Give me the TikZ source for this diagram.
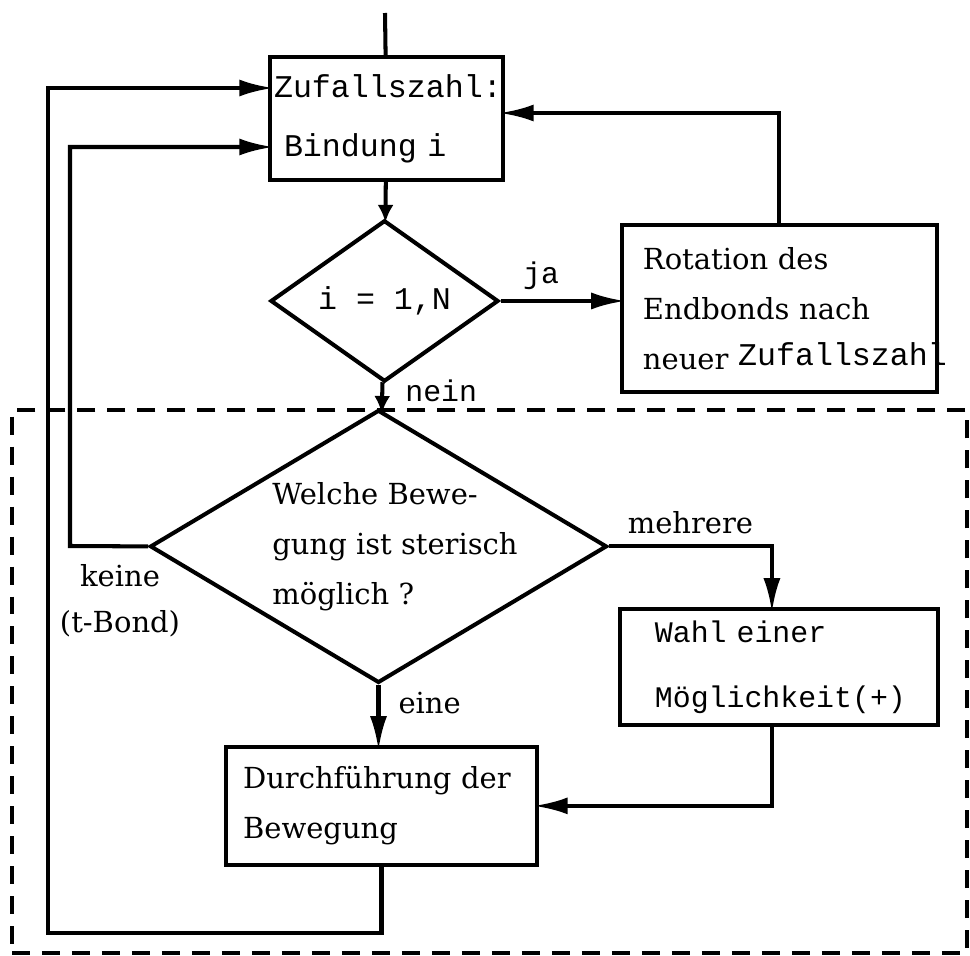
\documentclass[tikz,border=0pt]{standalone}
\usepackage{fontspec}
\setmainfont{DejaVu Serif}
\setmonofont{Liberation Mono}
\usetikzlibrary{shapes.geometric, arrows.meta, fit}
\tikzstyle{block} = [rectangle, draw=black, line width=2.3pt, align=left, inner sep=0pt, font=\fontsize{16.5}{28.5}\selectfont]
\tikzstyle{decision} = [diamond, draw=black, line width=2.3pt, inner sep=0pt]
\tikzstyle{line} = [line width=2.3pt]
\tikzstyle{arrow} = [line width=2.3pt, shorten >=-3pt, -{Latex[length=6.8mm,width=3.4mm]}]
\tikzstyle{arrowsmall} = [line width=2.3pt, shorten >=-2pt, -{Latex[length=3.5mm,width=3.2mm]}]
\tikzstyle{lbl} = [inner sep=0pt, font=\fontsize{16.5}{26.7}\selectfont]
\tikzstyle{lbltt} = [inner sep=0pt, font=\ttfamily\fontsize{17}{20}\selectfont]

\begin{document}
\begin{tikzpicture}[x=0.02cm, y=-0.02cm]
		\useasboundingbox (0,0) rectangle (970,956);
		\node (zuf) [block, minimum width=4.66cm, minimum height=2.46cm, text width=4.5cm, font=\ttfamily\fontsize{18}{33.6}\selectfont] at (386.5,118.5) {Zufallszahl:\\\hspace*{0.2cm}Bindung i};
		\node (dec1) [decision, below of=zuf, node distance=3.65cm, xshift=-0.04cm, minimum width=4.56cm, minimum height=3.14cm, font=\ttfamily\fontsize{18}{20}\selectfont] {i = 1,N};
		\node (rot) [block, right of=dec1, node distance=7.9cm, yshift=-0.15cm, minimum width=6.3cm, minimum height=3.34cm, text width=5.46cm] {Rotation des\\Endbonds nach\\\mbox{neuer \raisebox{2pt}{\ttfamily\fontsize{18}{20}\selectfont Zufallszahl}}};

		\node (dec2) [decision, below of=dec1, node distance=4.91cm, xshift=-0.12cm, minimum width=9.14cm, minimum height=5.46cm] {};
		\node (frage) [lbl, align=left, anchor=west, font=\fontsize{16.5}{28.5}\selectfont] at ([xshift=-2.13cm]dec2.center) {Welche Bewe-\\gung ist sterisch\\möglich ?};
		\node (wahl) [block, right of=dec2, node distance=8.01cm, yshift=-2.41cm, minimum width=6.36cm, minimum height=2.32cm, text width=4.96cm, font=\ttfamily\fontsize{17}{37}\selectfont] {Wahl einer\\Möglichkeit(+)};
		\node (durch) [block, below of=dec2, node distance=5.19cm, xshift=0.06cm, minimum width=6.22cm, minimum height=2.36cm, text width=5.54cm] {Durchführung der\\Bewegung};
		\node (blok) [draw=black, line width=2.2pt, dash pattern=on 0.36cm off 0.24cm, inner sep=0pt, fit={(12,410) (967,953)}] {};

		\coordinate (start) at (385,13);
		\coordinate (loop1) at (70,546);
		\coordinate (loop2) at (48,933);

		\draw [line] (start) -- (zuf);
		\draw [arrowsmall] (zuf) -- (dec1);
		\draw [arrow] (dec1.east) -- node [lbltt, above, pos=0.34, yshift=5pt] {ja} (dec1.east -| rot.west);
		\draw [arrow] (rot.north) |- ([yshift=1.1mm]zuf.east);
		\draw [arrowsmall] (dec1) -- node [lbltt, right, pos=0.3, xshift=0.42cm] {nein} (dec2);
		\draw [arrow] (dec2.east) -| node [lbl, above, pos=0.25, yshift=6pt] {mehrere} ([xshift=-0.14cm]wahl.north);
		\draw [arrow] (dec2.south) -- node [lbl, right, pos=0.3, xshift=0.36cm] {eine} (dec2.south |- durch.north);
		\draw [arrow] ([xshift=-0.14cm]wahl.south) |- (durch.east);
		\draw [arrow] (dec2.west) -- node [lbl, below, align=center, xshift=0.22cm, yshift=-9pt] {keine\\(t-Bond)} (loop1) |- ([yshift=-5.7mm]zuf.west);
		\draw [arrow] (durch.south) |- (loop2) |- ([yshift=6.1mm]zuf.west);
	\end{tikzpicture}
\end{document}
